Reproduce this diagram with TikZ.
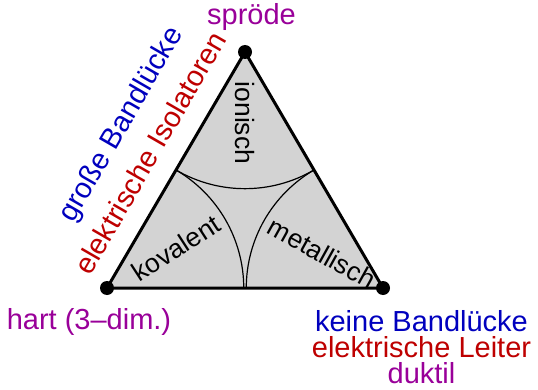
\documentclass[tikz,border=0pt]{standalone}
\usepackage{fontspec}
\setmainfont{Liberation Sans}
\usetikzlibrary{calc}
\definecolor{cblue}{RGB}{0,0,190}
\definecolor{cred}{RGB}{190,0,0}
\definecolor{cpurple}{RGB}{153,0,153}
\definecolor{cgray}{RGB}{211,211,211}
\tikzset{
  outer/.style={font=\fontsize{29}{26}\selectfont, inner sep=0pt},
  inner/.style={font=\fontsize{26.5}{26.5}\selectfont, inner sep=0pt},
  vdot/.style={circle, fill=black, inner sep=0pt, minimum size=14pt},
  edge/.style={line width=3pt, line join=round},
  bond/.style={line width=1.2pt}
}
\begin{document}
\begin{tikzpicture}[x=1pt,y=1pt]
\useasboundingbox (0,0) rectangle (538,389);
\coordinate (A) at (245,337);
\coordinate (B) at (107,101);
\coordinate (C) at (383,101);
\coordinate (mAB) at ($(A)!0.5!(B)$);
\coordinate (mAC) at ($(A)!0.5!(C)$);
\coordinate (mBC) at ($(B)!0.5!(C)$);
\fill[cgray] (A) -- (B) -- (C) -- cycle;
\draw[bond] (mAB) arc[start angle=239.7, end angle=300.3, radius=136.7];
\draw[bond] (mAB) arc[start angle=59.7, end angle=0, radius=136.7];
\draw[bond] (mAC) arc[start angle=120.3, end angle=180, radius=136.7];
\draw[edge] (A) -- (B) -- (C) -- cycle;
\node[vdot] (dA) at (A) {};
\node[vdot] (dB) at (B) {};
\node[vdot] (dC) at (C) {};
\node[inner, rotate=-90] (ion) at (245,266) {ionisch};
\node[inner, rotate=33] (kov) at (176,141) {kovalent};
\node[inner, rotate=-29] (met) at (322,136) {metallisch};
\node[outer, text=cpurple, anchor=base] (spr) at (251.5,364) {spröde};
\node[outer, text=cpurple] (hart) at (89,67) {hart (3–dim.)};
\node[outer, align=center] (right) at (421.5,42) {\textcolor{cblue}{keine Bandlücke}\\\textcolor{cred}{elektrische Leiter}\\\textcolor{cpurple}{duktil}};
\node[outer, text=cblue, rotate=60] (gross) at (122,264) {große Bandlücke};
\node[outer, text=cred, rotate=60] (iso) at (150,236) {elektrische Isolatoren};
\end{tikzpicture}
\end{document}
